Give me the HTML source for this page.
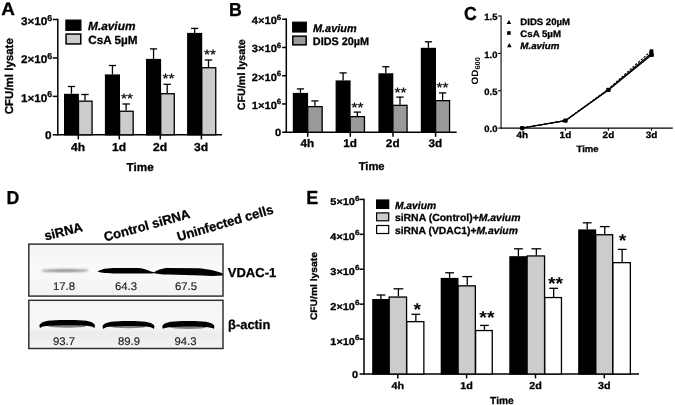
<!DOCTYPE html>
<html lang="en">
<head>
<meta charset="utf-8">
<title>Figure</title>
<style>
html,body{margin:0;padding:0;background:#fff;}
body{width:675px;height:405px;overflow:hidden;}
svg{display:block;font-family:"Liberation Sans", Arial, Helvetica, sans-serif;text-rendering:geometricPrecision;}
</style>
</head>
<body>
<svg width="675" height="405" viewBox="0 0 675 405">
<defs>
<linearGradient id="blotbg" x1="0" y1="0" x2="0" y2="1">
<stop offset="0" stop-color="#f4f4f4"/><stop offset="0.5" stop-color="#fafafa"/><stop offset="1" stop-color="#f2f2f2"/>
</linearGradient>
<filter id="blur1" x="-5%" y="-50%" width="110%" height="200%"><feGaussianBlur stdDeviation="0.75"/></filter>
<filter id="blur2" x="-10%" y="-200%" width="120%" height="500%"><feGaussianBlur stdDeviation="1.1"/></filter>
<linearGradient id="blotbg2" x1="0" y1="0" x2="0" y2="1">
<stop offset="0" stop-color="#f6f6f6"/><stop offset="0.55" stop-color="#f7f7f7"/><stop offset="0.68" stop-color="#ececec"/><stop offset="1" stop-color="#f3f3f3"/>
</linearGradient>
<filter id="soft" x="-2%" y="-2%" width="104%" height="104%"><feGaussianBlur stdDeviation="0.35"/></filter>
</defs>
<rect x="0" y="0" width="675" height="405" fill="#fff"/>
<g filter="url(#soft)">
<text transform="translate(1.20,14.60) scale(1.05,1)" font-size="18" text-anchor="start" font-weight="bold" font-style="normal" fill="#000"  stroke="#000" stroke-width="0.3" stroke-linejoin="round">A</text>
<line x1="57.80" y1="18.75" x2="57.80" y2="135.55" stroke="#000" stroke-width="1.5" />
<line x1="57.05" y1="134.80" x2="222.00" y2="134.80" stroke="#000" stroke-width="1.5" />
<line x1="52.80" y1="134.80" x2="57.80" y2="134.80" stroke="#000" stroke-width="1.5" />
<text transform="translate(51.60,139.00) scale(1.047,1)" font-size="11.2" text-anchor="end" font-weight="bold" font-style="normal" fill="#000"  stroke="#000" stroke-width="0.3" stroke-linejoin="round">0</text>
<line x1="52.80" y1="96.37" x2="57.80" y2="96.37" stroke="#000" stroke-width="1.5" />
<text transform="translate(52.30,101.77) scale(1.047,1)" font-size="11.2" text-anchor="end" font-weight="bold" font-style="normal" fill="#000"  stroke="#000" stroke-width="0.3" stroke-linejoin="round">1×10<tspan font-size="8.5" dy="-4.4">6</tspan></text>
<line x1="52.80" y1="57.93" x2="57.80" y2="57.93" stroke="#000" stroke-width="1.5" />
<text transform="translate(52.30,63.33) scale(1.047,1)" font-size="11.2" text-anchor="end" font-weight="bold" font-style="normal" fill="#000"  stroke="#000" stroke-width="0.3" stroke-linejoin="round">2×10<tspan font-size="8.5" dy="-4.4">6</tspan></text>
<line x1="52.80" y1="19.50" x2="57.80" y2="19.50" stroke="#000" stroke-width="1.5" />
<text transform="translate(52.30,24.90) scale(1.047,1)" font-size="11.2" text-anchor="end" font-weight="bold" font-style="normal" fill="#000"  stroke="#000" stroke-width="0.3" stroke-linejoin="round">3×10<tspan font-size="8.5" dy="-4.4">6</tspan></text>
<line x1="78.30" y1="134.80" x2="78.30" y2="139.40" stroke="#000" stroke-width="1.5" />
<text transform="translate(78.00,151.20) scale(1.05,1)" font-size="11.5" text-anchor="middle" font-weight="bold" font-style="normal" fill="#000"  stroke="#000" stroke-width="0.3" stroke-linejoin="round">4h</text>
<line x1="119.30" y1="134.80" x2="119.30" y2="139.40" stroke="#000" stroke-width="1.5" />
<text transform="translate(119.00,151.20) scale(1.05,1)" font-size="11.5" text-anchor="middle" font-weight="bold" font-style="normal" fill="#000"  stroke="#000" stroke-width="0.3" stroke-linejoin="round">1d</text>
<line x1="160.30" y1="134.80" x2="160.30" y2="139.40" stroke="#000" stroke-width="1.5" />
<text transform="translate(160.00,151.20) scale(1.05,1)" font-size="11.5" text-anchor="middle" font-weight="bold" font-style="normal" fill="#000"  stroke="#000" stroke-width="0.3" stroke-linejoin="round">2d</text>
<line x1="201.40" y1="134.80" x2="201.40" y2="139.40" stroke="#000" stroke-width="1.5" />
<text transform="translate(201.10,151.20) scale(1.05,1)" font-size="11.5" text-anchor="middle" font-weight="bold" font-style="normal" fill="#000"  stroke="#000" stroke-width="0.3" stroke-linejoin="round">3d</text>
<text transform="translate(140.20,170.90) scale(1.02,1)" font-size="11.5" text-anchor="middle" font-weight="bold" font-style="normal" fill="#000"  stroke="#000" stroke-width="0.3" stroke-linejoin="round">Time</text>
<text transform="translate(13.40,76.20) rotate(-90) scale(1.0,1)" font-size="11.5" text-anchor="middle" font-weight="bold" font-style="normal" fill="#000"  stroke="#000" stroke-width="0.3" stroke-linejoin="round">CFU/ml lysate</text>
<line x1="71.45" y1="86.50" x2="71.45" y2="93.80" stroke="#000" stroke-width="1.3" />
<line x1="67.85" y1="86.50" x2="75.05" y2="86.50" stroke="#000" stroke-width="1.3" />
<rect x="64.65" y="94.45" width="13.60" height="40.35" fill="#000" stroke="#000" stroke-width="1.3"/>
<line x1="85.00" y1="94.50" x2="85.00" y2="100.50" stroke="#000" stroke-width="1.3" />
<line x1="81.30" y1="94.50" x2="88.70" y2="94.50" stroke="#000" stroke-width="1.3" />
<rect x="78.51" y="101.15" width="13.54" height="33.65" fill="#ccc" stroke="#000" stroke-width="1.3"/>
<line x1="112.45" y1="65.50" x2="112.45" y2="74.40" stroke="#000" stroke-width="1.3" />
<line x1="108.85" y1="65.50" x2="116.05" y2="65.50" stroke="#000" stroke-width="1.3" />
<rect x="105.55" y="75.05" width="13.80" height="59.75" fill="#000" stroke="#000" stroke-width="1.3"/>
<line x1="126.10" y1="104.00" x2="126.10" y2="110.60" stroke="#000" stroke-width="1.3" />
<line x1="122.40" y1="104.00" x2="129.80" y2="104.00" stroke="#000" stroke-width="1.3" />
<rect x="119.61" y="111.25" width="13.54" height="23.55" fill="#ccc" stroke="#000" stroke-width="1.3"/>
<line x1="153.55" y1="48.90" x2="153.55" y2="58.90" stroke="#000" stroke-width="1.3" />
<line x1="149.95" y1="48.90" x2="157.15" y2="48.90" stroke="#000" stroke-width="1.3" />
<rect x="146.65" y="59.55" width="13.80" height="75.25" fill="#000" stroke="#000" stroke-width="1.3"/>
<line x1="167.20" y1="84.30" x2="167.20" y2="93.10" stroke="#000" stroke-width="1.3" />
<line x1="163.50" y1="84.30" x2="170.90" y2="84.30" stroke="#000" stroke-width="1.3" />
<rect x="160.71" y="93.75" width="13.54" height="41.05" fill="#ccc" stroke="#000" stroke-width="1.3"/>
<line x1="194.65" y1="28.40" x2="194.65" y2="32.90" stroke="#000" stroke-width="1.3" />
<line x1="191.05" y1="28.40" x2="198.25" y2="28.40" stroke="#000" stroke-width="1.3" />
<rect x="187.75" y="33.55" width="13.80" height="101.25" fill="#000" stroke="#000" stroke-width="1.3"/>
<line x1="208.50" y1="60.00" x2="208.50" y2="67.10" stroke="#000" stroke-width="1.3" />
<line x1="204.80" y1="60.00" x2="212.20" y2="60.00" stroke="#000" stroke-width="1.3" />
<rect x="201.81" y="67.75" width="13.94" height="67.05" fill="#ccc" stroke="#000" stroke-width="1.3"/>
<text transform="translate(127.00,102.60) scale(1.14,1)" font-size="13.5" text-anchor="middle" font-weight="normal" font-style="normal" fill="#000"  stroke="#000" stroke-width="0.25" stroke-linejoin="round">**</text>
<text transform="translate(168.60,83.00) scale(1.14,1)" font-size="13.5" text-anchor="middle" font-weight="normal" font-style="normal" fill="#000"  stroke="#000" stroke-width="0.25" stroke-linejoin="round">**</text>
<text transform="translate(210.00,58.60) scale(1.14,1)" font-size="13.5" text-anchor="middle" font-weight="normal" font-style="normal" fill="#000"  stroke="#000" stroke-width="0.25" stroke-linejoin="round">**</text>
<rect x="65.90" y="20.10" width="15.00" height="10.20" fill="#000" stroke="#000" stroke-width="1.2"/>
<rect x="66.05" y="34.05" width="14.70" height="9.90" fill="#ccc" stroke="#000" stroke-width="1.5"/>
<text transform="translate(88.00,29.70) scale(1.015,1)" font-size="11.7" text-anchor="start" font-weight="bold" font-style="italic" fill="#000"  stroke="#000" stroke-width="0.3" stroke-linejoin="round">M.avium</text>
<text transform="translate(88.20,43.80) scale(0.995,1)" font-size="11.8" text-anchor="start" font-weight="bold" font-style="normal" fill="#000"  stroke="#000" stroke-width="0.3" stroke-linejoin="round">CsA 5µM</text>
<text transform="translate(229.00,16.20) scale(0.945,1)" font-size="18.8" text-anchor="start" font-weight="bold" font-style="normal" fill="#000"  stroke="#000" stroke-width="0.3" stroke-linejoin="round">B</text>
<line x1="286.30" y1="18.45" x2="286.30" y2="132.95" stroke="#000" stroke-width="1.5" />
<line x1="285.55" y1="132.20" x2="456.70" y2="132.20" stroke="#000" stroke-width="1.5" />
<line x1="282.10" y1="132.20" x2="286.30" y2="132.20" stroke="#000" stroke-width="1.5" />
<text transform="translate(281.10,136.10) scale(1.055,1)" font-size="10.5" text-anchor="end" font-weight="bold" font-style="normal" fill="#000"  stroke="#000" stroke-width="0.3" stroke-linejoin="round">0</text>
<line x1="282.10" y1="103.95" x2="286.30" y2="103.95" stroke="#000" stroke-width="1.5" />
<text transform="translate(281.20,108.85) scale(1.055,1)" font-size="10.5" text-anchor="end" font-weight="bold" font-style="normal" fill="#000"  stroke="#000" stroke-width="0.3" stroke-linejoin="round">1×10<tspan font-size="7.5" dy="-4.4">6</tspan></text>
<line x1="282.10" y1="75.70" x2="286.30" y2="75.70" stroke="#000" stroke-width="1.5" />
<text transform="translate(281.20,80.60) scale(1.055,1)" font-size="10.5" text-anchor="end" font-weight="bold" font-style="normal" fill="#000"  stroke="#000" stroke-width="0.3" stroke-linejoin="round">2×10<tspan font-size="7.5" dy="-4.4">6</tspan></text>
<line x1="282.10" y1="47.45" x2="286.30" y2="47.45" stroke="#000" stroke-width="1.5" />
<text transform="translate(281.20,52.35) scale(1.055,1)" font-size="10.5" text-anchor="end" font-weight="bold" font-style="normal" fill="#000"  stroke="#000" stroke-width="0.3" stroke-linejoin="round">3×10<tspan font-size="7.5" dy="-4.4">6</tspan></text>
<line x1="282.10" y1="19.20" x2="286.30" y2="19.20" stroke="#000" stroke-width="1.5" />
<text transform="translate(281.20,24.10) scale(1.055,1)" font-size="10.5" text-anchor="end" font-weight="bold" font-style="normal" fill="#000"  stroke="#000" stroke-width="0.3" stroke-linejoin="round">4×10<tspan font-size="7.5" dy="-4.4">6</tspan></text>
<line x1="307.70" y1="132.20" x2="307.70" y2="136.80" stroke="#000" stroke-width="1.5" />
<text transform="translate(307.40,147.30) scale(1.05,1)" font-size="11.2" text-anchor="middle" font-weight="bold" font-style="normal" fill="#000"  stroke="#000" stroke-width="0.3" stroke-linejoin="round">4h</text>
<line x1="350.30" y1="132.20" x2="350.30" y2="136.80" stroke="#000" stroke-width="1.5" />
<text transform="translate(350.00,147.30) scale(1.05,1)" font-size="11.2" text-anchor="middle" font-weight="bold" font-style="normal" fill="#000"  stroke="#000" stroke-width="0.3" stroke-linejoin="round">1d</text>
<line x1="393.00" y1="132.20" x2="393.00" y2="136.80" stroke="#000" stroke-width="1.5" />
<text transform="translate(392.70,147.30) scale(1.05,1)" font-size="11.2" text-anchor="middle" font-weight="bold" font-style="normal" fill="#000"  stroke="#000" stroke-width="0.3" stroke-linejoin="round">2d</text>
<line x1="435.60" y1="132.20" x2="435.60" y2="136.80" stroke="#000" stroke-width="1.5" />
<text transform="translate(435.30,147.30) scale(1.05,1)" font-size="11.2" text-anchor="middle" font-weight="bold" font-style="normal" fill="#000"  stroke="#000" stroke-width="0.3" stroke-linejoin="round">3d</text>
<text transform="translate(371.60,170.10) scale(0.99,1)" font-size="11.3" text-anchor="middle" font-weight="bold" font-style="normal" fill="#000"  stroke="#000" stroke-width="0.3" stroke-linejoin="round">Time</text>
<text transform="translate(245.20,74.70) rotate(-90) scale(1.023,1)" font-size="10.5" text-anchor="middle" font-weight="bold" font-style="normal" fill="#000"  stroke="#000" stroke-width="0.3" stroke-linejoin="round">CFU/ml lysate</text>
<line x1="300.45" y1="88.90" x2="300.45" y2="92.90" stroke="#000" stroke-width="1.3" />
<line x1="296.85" y1="88.90" x2="304.05" y2="88.90" stroke="#000" stroke-width="1.3" />
<rect x="293.45" y="93.55" width="14.00" height="38.65" fill="#000" stroke="#000" stroke-width="1.3"/>
<line x1="314.95" y1="100.90" x2="314.95" y2="106.00" stroke="#000" stroke-width="1.3" />
<line x1="311.30" y1="100.90" x2="318.60" y2="100.90" stroke="#000" stroke-width="1.3" />
<rect x="307.71" y="106.65" width="14.44" height="25.55" fill="#999" stroke="#000" stroke-width="1.3"/>
<line x1="343.10" y1="72.90" x2="343.10" y2="80.40" stroke="#000" stroke-width="1.3" />
<line x1="339.50" y1="72.90" x2="346.70" y2="72.90" stroke="#000" stroke-width="1.3" />
<rect x="336.25" y="81.05" width="13.70" height="51.15" fill="#000" stroke="#000" stroke-width="1.3"/>
<line x1="357.35" y1="112.10" x2="357.35" y2="116.00" stroke="#000" stroke-width="1.3" />
<line x1="353.70" y1="112.10" x2="361.00" y2="112.10" stroke="#000" stroke-width="1.3" />
<rect x="350.21" y="116.65" width="14.24" height="15.55" fill="#999" stroke="#000" stroke-width="1.3"/>
<line x1="385.85" y1="66.70" x2="385.85" y2="73.30" stroke="#000" stroke-width="1.3" />
<line x1="382.25" y1="66.70" x2="389.45" y2="66.70" stroke="#000" stroke-width="1.3" />
<rect x="379.05" y="73.95" width="13.60" height="58.25" fill="#000" stroke="#000" stroke-width="1.3"/>
<line x1="400.00" y1="97.10" x2="400.00" y2="104.70" stroke="#000" stroke-width="1.3" />
<line x1="396.35" y1="97.10" x2="403.65" y2="97.10" stroke="#000" stroke-width="1.3" />
<rect x="392.91" y="105.35" width="14.14" height="26.85" fill="#999" stroke="#000" stroke-width="1.3"/>
<line x1="428.40" y1="41.80" x2="428.40" y2="47.80" stroke="#000" stroke-width="1.3" />
<line x1="424.80" y1="41.80" x2="432.00" y2="41.80" stroke="#000" stroke-width="1.3" />
<rect x="421.45" y="48.45" width="13.90" height="83.75" fill="#000" stroke="#000" stroke-width="1.3"/>
<line x1="442.60" y1="92.90" x2="442.60" y2="100.00" stroke="#000" stroke-width="1.3" />
<line x1="438.95" y1="92.90" x2="446.25" y2="92.90" stroke="#000" stroke-width="1.3" />
<rect x="435.61" y="100.65" width="13.94" height="31.55" fill="#999" stroke="#000" stroke-width="1.3"/>
<text transform="translate(357.50,111.50) scale(1.14,1)" font-size="13.5" text-anchor="middle" font-weight="normal" font-style="normal" fill="#000"  stroke="#000" stroke-width="0.25" stroke-linejoin="round">**</text>
<text transform="translate(400.50,96.70) scale(1.14,1)" font-size="13.5" text-anchor="middle" font-weight="normal" font-style="normal" fill="#000"  stroke="#000" stroke-width="0.25" stroke-linejoin="round">**</text>
<text transform="translate(442.40,92.20) scale(1.14,1)" font-size="13.5" text-anchor="middle" font-weight="normal" font-style="normal" fill="#000"  stroke="#000" stroke-width="0.25" stroke-linejoin="round">**</text>
<rect x="292.70" y="22.20" width="13.60" height="9.80" fill="#000" stroke="#000" stroke-width="1.2"/>
<rect x="292.85" y="36.15" width="13.30" height="8.70" fill="#999" stroke="#000" stroke-width="1.5"/>
<text transform="translate(313.00,32.30) scale(1.0,1)" font-size="10.9" text-anchor="start" font-weight="bold" font-style="italic" fill="#000"  stroke="#000" stroke-width="0.3" stroke-linejoin="round">M.avium</text>
<text transform="translate(312.80,45.10) scale(0.987,1)" font-size="11" text-anchor="start" font-weight="bold" font-style="normal" fill="#000"  stroke="#000" stroke-width="0.3" stroke-linejoin="round">DIDS 20µM</text>
<text transform="translate(463.90,20.10) scale(0.94,1)" font-size="18.9" text-anchor="start" font-weight="bold" font-style="normal" fill="#000"  stroke="#000" stroke-width="0.3" stroke-linejoin="round">C</text>
<line x1="501.10" y1="15.50" x2="501.10" y2="128.70" stroke="#3a3a3a" stroke-width="1.4" />
<line x1="500.60" y1="128.10" x2="672.80" y2="128.10" stroke="#000" stroke-width="1.3" />
<line x1="497.90" y1="128.10" x2="501.10" y2="128.10" stroke="#111" stroke-width="1.1" />
<text transform="translate(497.40,132.40) scale(1.03,1)" font-size="9.2" text-anchor="end" font-weight="bold" font-style="normal" fill="#000"  stroke="#000" stroke-width="0.3" stroke-linejoin="round">0.0</text>
<line x1="497.90" y1="90.73" x2="501.10" y2="90.73" stroke="#111" stroke-width="1.1" />
<text transform="translate(497.40,95.03) scale(1.03,1)" font-size="9.2" text-anchor="end" font-weight="bold" font-style="normal" fill="#000"  stroke="#000" stroke-width="0.3" stroke-linejoin="round">0.5</text>
<line x1="497.90" y1="53.37" x2="501.10" y2="53.37" stroke="#111" stroke-width="1.1" />
<text transform="translate(497.40,57.67) scale(1.03,1)" font-size="9.2" text-anchor="end" font-weight="bold" font-style="normal" fill="#000"  stroke="#000" stroke-width="0.3" stroke-linejoin="round">1.0</text>
<line x1="497.90" y1="16.00" x2="501.10" y2="16.00" stroke="#111" stroke-width="1.1" />
<text transform="translate(497.40,20.30) scale(1.03,1)" font-size="9.2" text-anchor="end" font-weight="bold" font-style="normal" fill="#000"  stroke="#000" stroke-width="0.3" stroke-linejoin="round">1.5</text>
<line x1="522.20" y1="128.10" x2="522.20" y2="130.70" stroke="#111" stroke-width="1.1" />
<text transform="translate(522.20,137.80) scale(1.08,1)" font-size="9.2" text-anchor="middle" font-weight="bold" font-style="normal" fill="#000"  stroke="#000" stroke-width="0.3" stroke-linejoin="round">4h</text>
<line x1="565.40" y1="128.10" x2="565.40" y2="130.70" stroke="#111" stroke-width="1.1" />
<text transform="translate(565.40,137.80) scale(1.08,1)" font-size="9.2" text-anchor="middle" font-weight="bold" font-style="normal" fill="#000"  stroke="#000" stroke-width="0.3" stroke-linejoin="round">1d</text>
<line x1="608.40" y1="128.10" x2="608.40" y2="130.70" stroke="#111" stroke-width="1.1" />
<text transform="translate(608.40,137.80) scale(1.08,1)" font-size="9.2" text-anchor="middle" font-weight="bold" font-style="normal" fill="#000"  stroke="#000" stroke-width="0.3" stroke-linejoin="round">2d</text>
<line x1="651.50" y1="128.10" x2="651.50" y2="130.70" stroke="#111" stroke-width="1.1" />
<text transform="translate(651.50,137.80) scale(1.08,1)" font-size="9.2" text-anchor="middle" font-weight="bold" font-style="normal" fill="#000"  stroke="#000" stroke-width="0.3" stroke-linejoin="round">3d</text>
<text transform="translate(587.60,152.10) scale(1.04,1)" font-size="9.2" text-anchor="middle" font-weight="bold" font-style="normal" fill="#000"  stroke="#000" stroke-width="0.3" stroke-linejoin="round">Time</text>
<text transform="translate(477.5,70.8) rotate(-90) scale(1.07,1)" font-size="9.3" font-weight="bold" text-anchor="middle">OD<tspan font-size="7" dy="2.4">600</tspan></text>
<polyline points="522.2,128.0 565.4,120.7 608.4,89.9 651.5,54.9" fill="none" stroke="#000" stroke-width="1.25"/>
<polyline points="522.2,128.0 565.4,120.7 608.4,89.7 651.5,53.3" fill="none" stroke="#000" stroke-width="1.25"/>
<polyline points="522.2,128.0 565.4,120.5 608.4,89.0 651.5,50.6" fill="none" stroke="#000" stroke-width="1.1" stroke-dasharray="2.3 1.4"/>
<rect x="519.9000000000001" y="125.9" width="4.6" height="4.2" rx="1.3" fill="#000"/>
<rect x="563.1" y="118.60000000000001" width="4.6" height="4.2" rx="1.3" fill="#000"/>
<rect x="606.1" y="87.80000000000001" width="4.6" height="4.2" rx="1.3" fill="#000"/>
<rect x="649.2" y="52.8" width="4.6" height="4.2" rx="1.3" fill="#000"/>
<rect x="649.6" y="49.3" width="3.8" height="7.6" rx="1" fill="#000"/>
<polygon points="506.59999999999997,24.04 511.2,24.04 508.9,19.9" fill="#000"/>
<rect x="507.09999999999997" y="31.2" width="3.6" height="3.6" fill="#000"/>
<polygon points="506.99999999999994,47.239999999999995 511.59999999999997,47.239999999999995 509.29999999999995,43.1" fill="#000"/>
<text transform="translate(520.30,25.10) scale(1.03,1)" font-size="9.3" text-anchor="start" font-weight="bold" font-style="normal" fill="#000"  stroke="#000" stroke-width="0.3" stroke-linejoin="round">DIDS 20µM</text>
<text transform="translate(520.30,37.10) scale(1.04,1)" font-size="9.3" text-anchor="start" font-weight="bold" font-style="normal" fill="#000"  stroke="#000" stroke-width="0.3" stroke-linejoin="round">CsA 5µM</text>
<text transform="translate(520.30,48.50) scale(1.05,1)" font-size="9.3" text-anchor="start" font-weight="bold" font-style="italic" fill="#000"  stroke="#000" stroke-width="0.3" stroke-linejoin="round">M.avium</text>
<text transform="translate(6.60,204.10) scale(0.937,1)" font-size="18.85" text-anchor="start" font-weight="bold" font-style="normal" fill="#000"  stroke="#000" stroke-width="0.3" stroke-linejoin="round">D</text>
<text transform="translate(45.50,240.50) rotate(-14) scale(1.0,1)" font-size="13" text-anchor="start" font-weight="bold" font-style="normal" fill="#000"  stroke="#000" stroke-width="0.3" stroke-linejoin="round">siRNA</text>
<text transform="translate(105.30,241.60) rotate(-15.6) scale(1.0,1)" font-size="13" text-anchor="start" font-weight="bold" font-style="normal" fill="#000"  stroke="#000" stroke-width="0.3" stroke-linejoin="round">Control siRNA</text>
<text transform="translate(178.40,241.20) rotate(-16.3) scale(1.0,1)" font-size="13" text-anchor="start" font-weight="bold" font-style="normal" fill="#000"  stroke="#000" stroke-width="0.3" stroke-linejoin="round">Uninfected cells</text>
<rect x="28.8" y="244.1" width="194.2" height="52.0" fill="url(#blotbg)" stroke="#333" stroke-width="1.5"/>
<rect x="28.8" y="300.3" width="194.2" height="48.2" fill="url(#blotbg2)" stroke="#333" stroke-width="1.5"/>
<g filter="url(#blur2)">
<path d="M42,270.7 C52,269.6 75,269.5 88,270.4 C75,271.6 52,271.7 42,270.7 Z" fill="#777" stroke="#888" stroke-width="1.2"/>
</g>
<g filter="url(#blur1)">
<path d="M97.4,271.4 C100,270 102.5,269.2 104.7,268.8 C108,268.2 112,268 117.7,268 L138,268.1 C142,268.3 146,269.5 150.9,271.6 L154.2,272.3 C156,270.9 158,269.9 160.7,269.2 C163,268.4 166,268 168.9,268 L198.2,268.2 C203,268.5 207,269.1 211.2,270.1 C216,271.2 220,272.4 222.6,273.4 L222.6,275.6 C219,275.9 215,275.9 211.2,275.9 C205,275.7 199,275.4 193.3,275.2 L168.9,274.6 C165,274.5 162,274.3 159.1,273.9 L154.2,273.3 L150.9,273.4 C148,273.5 146,273.6 144.4,273.6 L117.7,273.6 C112,273.6 108,273.4 104.7,273.1 C102,272.7 99.5,272.2 97.4,271.4 Z" fill="#000"/>
</g>
<g filter="url(#blur1)">
<ellipse cx="67.2" cy="326.2" rx="18.8" ry="1.5" fill="#6a6a6a" opacity="0.85"/>
<path d="M40.1,328.1 C39.0,326.1 39.2,324.6 40.6,323.7 C42.6,321.7 46.6,320.9 51.6,320.6 C57.6,320.2 61.6,320.1 67.2,320.1 C72.8,320.1 76.8,320.2 82.8,320.6 C87.8,320.9 91.8,321.7 93.8,323.7 C95.2,324.6 95.4,326.1 94.3,328.1 C93.3,327.1 91.8,326.5 89.8,326.3 C85.8,325.8 80.8,325.5 67.2,325.3 C53.6,325.5 48.6,325.8 44.6,326.3 C42.6,326.5 41.1,327.1 40.1,328.1 Z" fill="#000"/>
<ellipse cx="128.5" cy="326.8" rx="17.5" ry="1.5" fill="#6a6a6a" opacity="0.85"/>
<path d="M103.3,328.9 C102.2,326.9 102.4,325.4 103.8,324.5 C105.8,322.5 109.8,321.7 114.8,321.4 C120.8,321.0 124.8,320.9 128.5,320.9 C132.2,320.9 136.2,321.0 142.2,321.4 C147.2,321.7 151.2,322.5 153.2,324.5 C154.6,325.4 154.8,326.9 153.7,328.9 C152.7,327.9 151.2,327.1 149.2,326.9 C145.2,326.4 140.2,326.1 128.5,325.9 C116.8,326.1 111.8,326.4 107.8,326.9 C105.8,327.1 104.3,327.9 103.3,328.9 Z" fill="#000"/>
<ellipse cx="188.3" cy="327.4" rx="17.6" ry="1.5" fill="#6a6a6a" opacity="0.85"/>
<path d="M163.0,328.9 C161.9,326.9 162.1,325.4 163.5,324.5 C165.5,322.5 169.5,321.7 174.5,321.4 C180.5,321.0 184.5,320.9 188.3,320.9 C192.2,320.9 196.2,321.0 202.2,321.4 C207.2,321.7 211.2,322.5 213.2,324.5 C214.6,325.4 214.8,326.9 213.7,328.9 C212.7,327.9 211.2,327.7 209.2,327.5 C205.2,327.0 200.2,326.7 188.3,326.5 C176.5,326.7 171.5,327.0 167.5,327.5 C165.5,327.7 164.0,327.9 163.0,328.9 Z" fill="#000"/>
</g>
<text transform="translate(63.90,290.20) scale(1.03,1)" font-size="11" text-anchor="middle" font-weight="normal" font-style="normal" fill="#1c1c1c"  stroke="#1c1c1c" stroke-width="0.15" stroke-linejoin="round">17.8</text>
<text transform="translate(126.00,290.20) scale(1.03,1)" font-size="11" text-anchor="middle" font-weight="normal" font-style="normal" fill="#1c1c1c"  stroke="#1c1c1c" stroke-width="0.15" stroke-linejoin="round">64.3</text>
<text transform="translate(186.00,290.20) scale(1.03,1)" font-size="11" text-anchor="middle" font-weight="normal" font-style="normal" fill="#1c1c1c"  stroke="#1c1c1c" stroke-width="0.15" stroke-linejoin="round">67.5</text>
<text transform="translate(63.90,345.20) scale(1.03,1)" font-size="11" text-anchor="middle" font-weight="normal" font-style="normal" fill="#1c1c1c"  stroke="#1c1c1c" stroke-width="0.15" stroke-linejoin="round">93.7</text>
<text transform="translate(129.00,345.20) scale(1.03,1)" font-size="11" text-anchor="middle" font-weight="normal" font-style="normal" fill="#1c1c1c"  stroke="#1c1c1c" stroke-width="0.15" stroke-linejoin="round">89.9</text>
<text transform="translate(185.50,345.20) scale(1.03,1)" font-size="11" text-anchor="middle" font-weight="normal" font-style="normal" fill="#1c1c1c"  stroke="#1c1c1c" stroke-width="0.15" stroke-linejoin="round">94.3</text>
<text transform="translate(227.80,277.00) scale(1.0,1)" font-size="13" text-anchor="start" font-weight="bold" font-style="normal" fill="#000"  stroke="#000" stroke-width="0.3" stroke-linejoin="round">VDAC-1</text>
<text transform="translate(228.10,328.80) scale(0.99,1)" font-size="13" text-anchor="start" font-weight="bold" font-style="normal" fill="#000"  stroke="#000" stroke-width="0.3" stroke-linejoin="round">β-actin</text>
<text transform="translate(306.35,204.30) scale(0.952,1)" font-size="18.9" text-anchor="start" font-weight="bold" font-style="normal" fill="#000"  stroke="#000" stroke-width="0.3" stroke-linejoin="round">E</text>
<line x1="364.00" y1="198.65" x2="364.00" y2="374.75" stroke="#000" stroke-width="1.5" />
<line x1="363.25" y1="374.00" x2="639.00" y2="374.00" stroke="#000" stroke-width="1.5" />
<line x1="359.50" y1="374.00" x2="364.00" y2="374.00" stroke="#000" stroke-width="1.5" />
<text transform="translate(358.00,377.70) scale(1.09,1)" font-size="10" text-anchor="end" font-weight="bold" font-style="normal" fill="#000"  stroke="#000" stroke-width="0.3" stroke-linejoin="round">0</text>
<line x1="359.50" y1="339.08" x2="364.00" y2="339.08" stroke="#000" stroke-width="1.5" />
<text transform="translate(359.40,344.58) scale(1.09,1)" font-size="10" text-anchor="end" font-weight="bold" font-style="normal" fill="#000"  stroke="#000" stroke-width="0.3" stroke-linejoin="round">1×10<tspan font-size="7.4" dy="-4.4">6</tspan></text>
<line x1="359.50" y1="304.16" x2="364.00" y2="304.16" stroke="#000" stroke-width="1.5" />
<text transform="translate(359.40,309.66) scale(1.09,1)" font-size="10" text-anchor="end" font-weight="bold" font-style="normal" fill="#000"  stroke="#000" stroke-width="0.3" stroke-linejoin="round">2×10<tspan font-size="7.4" dy="-4.4">6</tspan></text>
<line x1="359.50" y1="269.24" x2="364.00" y2="269.24" stroke="#000" stroke-width="1.5" />
<text transform="translate(359.40,274.74) scale(1.09,1)" font-size="10" text-anchor="end" font-weight="bold" font-style="normal" fill="#000"  stroke="#000" stroke-width="0.3" stroke-linejoin="round">3×10<tspan font-size="7.4" dy="-4.4">6</tspan></text>
<line x1="359.50" y1="234.32" x2="364.00" y2="234.32" stroke="#000" stroke-width="1.5" />
<text transform="translate(359.40,239.82) scale(1.09,1)" font-size="10" text-anchor="end" font-weight="bold" font-style="normal" fill="#000"  stroke="#000" stroke-width="0.3" stroke-linejoin="round">4×10<tspan font-size="7.4" dy="-4.4">6</tspan></text>
<line x1="359.50" y1="199.40" x2="364.00" y2="199.40" stroke="#000" stroke-width="1.5" />
<text transform="translate(359.40,204.90) scale(1.09,1)" font-size="10" text-anchor="end" font-weight="bold" font-style="normal" fill="#000"  stroke="#000" stroke-width="0.3" stroke-linejoin="round">5×10<tspan font-size="7.4" dy="-4.4">6</tspan></text>
<line x1="397.80" y1="374.00" x2="397.80" y2="378.40" stroke="#000" stroke-width="1.5" />
<text transform="translate(397.80,388.90) scale(1.08,1)" font-size="10" text-anchor="middle" font-weight="bold" font-style="normal" fill="#000"  stroke="#000" stroke-width="0.3" stroke-linejoin="round">4h</text>
<line x1="466.60" y1="374.00" x2="466.60" y2="378.40" stroke="#000" stroke-width="1.5" />
<text transform="translate(466.60,388.90) scale(1.08,1)" font-size="10" text-anchor="middle" font-weight="bold" font-style="normal" fill="#000"  stroke="#000" stroke-width="0.3" stroke-linejoin="round">1d</text>
<line x1="535.50" y1="374.00" x2="535.50" y2="378.40" stroke="#000" stroke-width="1.5" />
<text transform="translate(535.50,388.90) scale(1.08,1)" font-size="10" text-anchor="middle" font-weight="bold" font-style="normal" fill="#000"  stroke="#000" stroke-width="0.3" stroke-linejoin="round">2d</text>
<line x1="604.30" y1="374.00" x2="604.30" y2="378.40" stroke="#000" stroke-width="1.5" />
<text transform="translate(604.30,388.90) scale(1.08,1)" font-size="10" text-anchor="middle" font-weight="bold" font-style="normal" fill="#000"  stroke="#000" stroke-width="0.3" stroke-linejoin="round">3d</text>
<text transform="translate(501.90,403.80) scale(1.0,1)" font-size="10.2" text-anchor="middle" font-weight="bold" font-style="normal" fill="#000"  stroke="#000" stroke-width="0.3" stroke-linejoin="round">Time</text>
<text transform="translate(316.70,286.10) rotate(-90) scale(1.082,1)" font-size="9.5" text-anchor="middle" font-weight="bold" font-style="normal" fill="#000"  stroke="#000" stroke-width="0.3" stroke-linejoin="round">CFU/ml lysate</text>
<line x1="380.90" y1="295.00" x2="380.90" y2="299.00" stroke="#000" stroke-width="1.3" />
<line x1="376.50" y1="295.00" x2="385.30" y2="295.00" stroke="#000" stroke-width="1.3" />
<rect x="372.85" y="299.65" width="16.10" height="74.35" fill="#000" stroke="#000" stroke-width="1.3"/>
<line x1="398.40" y1="288.80" x2="398.40" y2="296.40" stroke="#000" stroke-width="1.3" />
<line x1="393.50" y1="288.80" x2="403.30" y2="288.80" stroke="#000" stroke-width="1.3" />
<rect x="389.21" y="297.05" width="17.34" height="76.95" fill="#ccc" stroke="#000" stroke-width="1.3"/>
<line x1="415.85" y1="314.30" x2="415.85" y2="321.00" stroke="#000" stroke-width="1.3" />
<line x1="411.45" y1="314.30" x2="420.25" y2="314.30" stroke="#000" stroke-width="1.3" />
<rect x="406.81" y="321.65" width="17.04" height="52.35" fill="#fff" stroke="#000" stroke-width="1.3"/>
<line x1="449.60" y1="272.80" x2="449.60" y2="277.90" stroke="#000" stroke-width="1.3" />
<line x1="445.20" y1="272.80" x2="454.00" y2="272.80" stroke="#000" stroke-width="1.3" />
<rect x="441.35" y="278.55" width="16.50" height="95.45" fill="#000" stroke="#000" stroke-width="1.3"/>
<line x1="467.25" y1="276.60" x2="467.25" y2="285.20" stroke="#000" stroke-width="1.3" />
<line x1="462.35" y1="276.60" x2="472.15" y2="276.60" stroke="#000" stroke-width="1.3" />
<rect x="458.11" y="285.85" width="17.24" height="88.15" fill="#ccc" stroke="#000" stroke-width="1.3"/>
<line x1="484.45" y1="325.40" x2="484.45" y2="329.90" stroke="#000" stroke-width="1.3" />
<line x1="480.05" y1="325.40" x2="488.85" y2="325.40" stroke="#000" stroke-width="1.3" />
<rect x="475.61" y="330.55" width="16.64" height="43.45" fill="#fff" stroke="#000" stroke-width="1.3"/>
<line x1="518.40" y1="248.80" x2="518.40" y2="256.20" stroke="#000" stroke-width="1.3" />
<line x1="514.00" y1="248.80" x2="522.80" y2="248.80" stroke="#000" stroke-width="1.3" />
<rect x="509.95" y="256.85" width="16.90" height="117.15" fill="#000" stroke="#000" stroke-width="1.3"/>
<line x1="536.35" y1="248.80" x2="536.35" y2="255.30" stroke="#000" stroke-width="1.3" />
<line x1="531.45" y1="248.80" x2="541.25" y2="248.80" stroke="#000" stroke-width="1.3" />
<rect x="527.11" y="255.95" width="17.44" height="118.05" fill="#ccc" stroke="#000" stroke-width="1.3"/>
<line x1="553.65" y1="288.30" x2="553.65" y2="296.90" stroke="#000" stroke-width="1.3" />
<line x1="549.25" y1="288.30" x2="558.05" y2="288.30" stroke="#000" stroke-width="1.3" />
<rect x="544.81" y="297.55" width="16.64" height="76.45" fill="#fff" stroke="#000" stroke-width="1.3"/>
<line x1="587.20" y1="222.80" x2="587.20" y2="229.40" stroke="#000" stroke-width="1.3" />
<line x1="582.80" y1="222.80" x2="591.60" y2="222.80" stroke="#000" stroke-width="1.3" />
<rect x="578.85" y="230.05" width="16.70" height="143.95" fill="#000" stroke="#000" stroke-width="1.3"/>
<line x1="604.75" y1="226.60" x2="604.75" y2="234.10" stroke="#000" stroke-width="1.3" />
<line x1="599.85" y1="226.60" x2="609.65" y2="226.60" stroke="#000" stroke-width="1.3" />
<rect x="595.81" y="234.75" width="16.84" height="139.25" fill="#ccc" stroke="#000" stroke-width="1.3"/>
<line x1="622.15" y1="249.40" x2="622.15" y2="262.00" stroke="#000" stroke-width="1.3" />
<line x1="617.75" y1="249.40" x2="626.55" y2="249.40" stroke="#000" stroke-width="1.3" />
<rect x="612.91" y="262.65" width="17.44" height="111.35" fill="#fff" stroke="#000" stroke-width="1.3"/>
<text transform="translate(417.40,314.80) scale(1.14,1)" font-size="17" text-anchor="middle" font-weight="bold" font-style="normal" fill="#000"  stroke="#000" stroke-width="0.01" stroke-linejoin="round">*</text>
<text transform="translate(486.90,323.10) scale(1.14,1)" font-size="17" text-anchor="middle" font-weight="bold" font-style="normal" fill="#000"  stroke="#000" stroke-width="0.01" stroke-linejoin="round">**</text>
<text transform="translate(555.60,288.50) scale(1.14,1)" font-size="17" text-anchor="middle" font-weight="bold" font-style="normal" fill="#000"  stroke="#000" stroke-width="0.01" stroke-linejoin="round">**</text>
<text transform="translate(622.50,245.80) scale(1.14,1)" font-size="17" text-anchor="middle" font-weight="bold" font-style="normal" fill="#000"  stroke="#000" stroke-width="0.01" stroke-linejoin="round">*</text>
<rect x="376.60" y="200.00" width="12.10" height="8.40" fill="#000" stroke="#000" stroke-width="1.2"/>
<rect x="376.60" y="212.90" width="12.10" height="7.90" fill="#ccc" stroke="#000" stroke-width="1.2"/>
<rect x="376.60" y="225.50" width="12.10" height="8.00" fill="#fff" stroke="#000" stroke-width="1.2"/>
<text transform="translate(394.90,208.70) scale(1.0,1)" font-size="10.3" text-anchor="start" font-weight="bold" font-style="italic" fill="#000"  stroke="#000" stroke-width="0.3" stroke-linejoin="round">M.avium</text>
<text transform="translate(394.90,221.00) scale(1.012,1)" font-size="10.3" text-anchor="start" font-weight="bold" font-style="normal" fill="#000"  stroke="#000" stroke-width="0.3" stroke-linejoin="round">siRNA (Control)+<tspan font-style="italic">M.avium</tspan></text>
<text transform="translate(394.90,233.60) scale(1.005,1)" font-size="10.3" text-anchor="start" font-weight="bold" font-style="normal" fill="#000"  stroke="#000" stroke-width="0.3" stroke-linejoin="round">siRNA (VDAC1)+<tspan font-style="italic">M.avium</tspan></text>
</g>
</svg>
</body>
</html>
